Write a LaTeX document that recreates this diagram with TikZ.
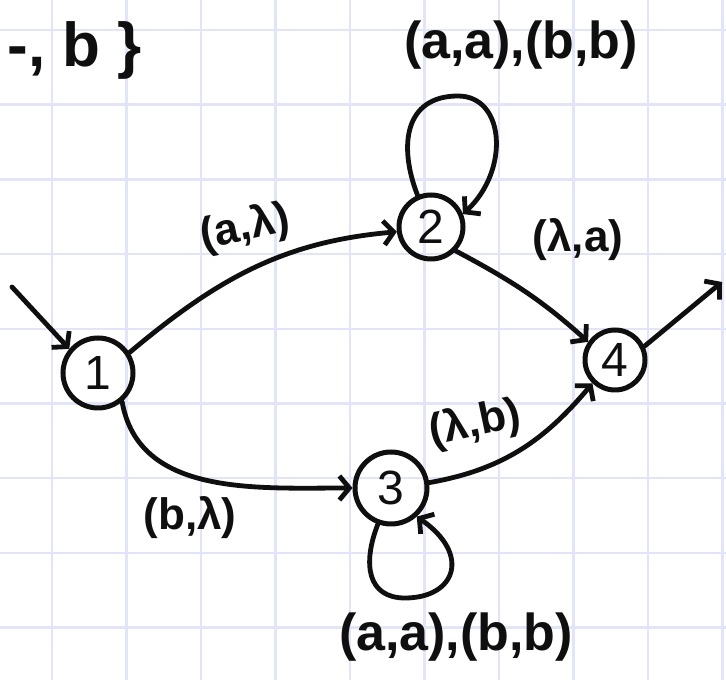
\documentclass[tikz,border=0pt]{standalone}
\usepackage{fontspec}
\setmainfont{Liberation Sans}
\usetikzlibrary{arrows.meta}
\definecolor{gridc}{RGB}{226,229,248}
\definecolor{ink}{RGB}{15,15,15}
\begin{document}
\begin{tikzpicture}[x=1pt,y=1pt,
  state/.style={circle,draw=ink,line width=5pt,inner sep=0pt,text=ink,font=\fontsize{48}{48}\selectfont},
  edge/.style={draw=ink,line width=4.8pt,line cap=round,-{Straight Barb[length=10pt,width=24pt]}},
  lbl/.style={text=ink,font=\bfseries\fontsize{44}{44}\selectfont,inner sep=0pt},
  looplbl/.style={text=ink,font=\bfseries\fontsize{52}{52}\selectfont,inner sep=0pt},
  gridline/.style={draw=gridc,line width=2.5pt}]
\useasboundingbox (0,0) rectangle (726,680);
\fill[white] (0,0) rectangle (726,680);
\foreach \x in {0,...,9} \draw[gridline] ({52+74.5*\x},0) -- ({52+74.5*\x},680);
\foreach \y in {0,...,8} \draw[gridline] (0,{650-74.7*\y}) -- (726,{650-74.7*\y});
% states
\node[state,minimum size=70pt] (n1) at (98,307) {1};
\node[state,minimum size=64pt] (n2) at (431,453) {2};
\node[state,minimum size=72pt] (n3) at (391,192) {3};
\node[state,minimum size=60pt] (n4) at (615,320) {4};
\coordinate (start) at (12,393);
\coordinate (exit) at (722,398);
\coordinate (l2top) at (458,584);
\coordinate (l3bot) at (405,82);
% edges
\draw[edge] (start) -- (n1.140);
\draw[edge] (n1.33) to[out=40,in=185] (n2.188);
\draw[edge] (n2.-44) to[out=-28,in=138] (n4.146);
\draw[edge] (n1.-50) to[out=-80,in=180] (n3.180);
\draw[edge] (n3.8) to[out=10,in=230] (n4.-134);
\draw[edge] (n4.25) -- (exit);
\draw[edge] (n2.113) .. controls (398,535) and (405,584) .. (l2top) .. controls (505,584) and (510,510) .. (n2.22);
\draw[edge] (n3.250) .. controls (362,115) and (368,82) .. (l3bot) .. controls (455,82) and (472,125) .. (n3.-48);
% labels
\node[lbl,rotate=12] (la) at (245,452) {(a,λ)};
\node[lbl] (lb) at (578,440) {(λ,a)};
\node[lbl] (lc) at (190,162) {(b,λ)};
\node[lbl,rotate=12] (ld) at (475,256) {(λ,b)};
\node[looplbl] (le) at (521,635) {(a,a),(b,b)};
\node[looplbl] (lf) at (456,43) {(a,a),(b,b)};
\node[text=ink,font=\bfseries\fontsize{62}{62}\selectfont,inner sep=0pt,anchor=east] (sig) at (142,630) {-, b \}};
\end{tikzpicture}
\end{document}
